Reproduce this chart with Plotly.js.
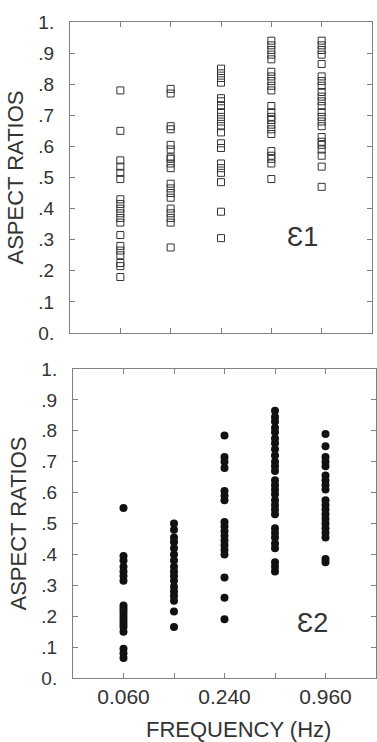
<!DOCTYPE html>
<html>
<head>
<meta charset="utf-8">
<script src="https://cdn.plot.ly/plotly-3.0.1.min.js"></script>
<style>
  html, body { margin: 0; padding: 0; background: #ffffff; }
  #chart { width: 377px; height: 742px; }
</style>
</head>
<body>
<div id="chart"></div>
<script>
// Frequency categories (Hz)
const frequencies = ["0.060", "0.120", "0.240", "0.480", "0.960"];
const freqTickText = ["0.060", "", "0.240", "", "0.960"];
const yTickVals = [0, 0.1, 0.2, 0.3, 0.4, 0.5, 0.6, 0.7, 0.8, 0.9, 1];
const yTickText = ["0.", ".1", ".2", ".3", ".4", ".5", ".6", ".7", ".8", ".9", "1."];

// ε1 aspect ratios (top panel, open squares)
const e1_f060 = [0.78, 0.65, 0.555, 0.535, 0.515, 0.495, 0.43, 0.415, 0.40, 0.385, 0.37, 0.355, 0.315, 0.28, 0.265, 0.25, 0.225, 0.215, 0.18];
const e1_f120 = [0.785, 0.77, 0.665, 0.655, 0.605, 0.59, 0.565, 0.56, 0.545, 0.53, 0.48, 0.465, 0.45, 0.435, 0.40, 0.385, 0.37, 0.355, 0.275];
const e1_f240 = [0.85, 0.835, 0.82, 0.805, 0.755, 0.745, 0.73, 0.71, 0.695, 0.68, 0.665, 0.645, 0.61, 0.595, 0.545, 0.53, 0.515, 0.485, 0.39, 0.305];
const e1_f480 = [0.94, 0.925, 0.91, 0.895, 0.88, 0.84, 0.825, 0.81, 0.795, 0.78, 0.73, 0.71, 0.695, 0.685, 0.67, 0.655, 0.64, 0.585, 0.57, 0.56, 0.545, 0.495];
const e1_f960 = [0.94, 0.925, 0.91, 0.895, 0.865, 0.825, 0.81, 0.795, 0.775, 0.76, 0.745, 0.73, 0.71, 0.695, 0.68, 0.665, 0.63, 0.615, 0.605, 0.59, 0.57, 0.535, 0.47];

// ε2 aspect ratios (bottom panel, filled dots)
const e2_f060 = [0.55, 0.395, 0.38, 0.36, 0.345, 0.33, 0.315, 0.235, 0.225, 0.215, 0.205, 0.195, 0.185, 0.175, 0.165, 0.15, 0.095, 0.08, 0.065];
const e2_f120 = [0.50, 0.48, 0.455, 0.44, 0.42, 0.40, 0.38, 0.36, 0.345, 0.33, 0.315, 0.295, 0.28, 0.265, 0.25, 0.215, 0.165];
const e2_f240 = [0.785, 0.715, 0.70, 0.68, 0.605, 0.59, 0.575, 0.505, 0.49, 0.475, 0.46, 0.445, 0.43, 0.415, 0.40, 0.325, 0.26, 0.19];
const e2_f480 = [0.865, 0.845, 0.83, 0.81, 0.795, 0.775, 0.76, 0.74, 0.72, 0.70, 0.685, 0.67, 0.64, 0.625, 0.61, 0.595, 0.575, 0.56, 0.545, 0.53, 0.485, 0.47, 0.455, 0.435, 0.42, 0.375, 0.36, 0.345];
const e2_f960 = [0.79, 0.75, 0.715, 0.70, 0.685, 0.655, 0.64, 0.625, 0.61, 0.575, 0.56, 0.545, 0.53, 0.515, 0.50, 0.485, 0.47, 0.455, 0.385, 0.375];

const e1Groups = [e1_f060, e1_f120, e1_f240, e1_f480, e1_f960];
const e2Groups = [e2_f060, e2_f120, e2_f240, e2_f480, e2_f960];

function flatten(groups) {
  const x = [], y = [];
  groups.forEach((vals, i) => vals.forEach(v => { x.push(frequencies[i]); y.push(v); }));
  return {x, y};
}
const e1 = flatten(e1Groups);
const e2 = flatten(e2Groups);

const FONT = "Liberation Sans, Arial, Helvetica, sans-serif";
const TXT = "#333333";
const LINE = "#808080";
const H = 742, W = 377;

const traces = [
  {
    type: "scatter", mode: "markers", x: e1.x, y: e1.y, xaxis: "x", yaxis: "y",
    marker: {symbol: "square-open", size: 7, color: "#333333", line: {width: 1, color: "#333333"}},
    hoverinfo: "x+y", showlegend: false
  },
  {
    type: "scatter", mode: "markers", x: e2.x, y: e2.y, xaxis: "x2", yaxis: "y2",
    marker: {symbol: "circle", size: 8, color: "#111111"},
    hoverinfo: "x+y", showlegend: false
  }
];

function yAxis(domain, anchor) {
  return {
    domain: domain, anchor: anchor, range: [0, 1],
    tickmode: "array", tickvals: yTickVals, ticktext: yTickText,
    ticks: "inside", ticklen: 5, tickwidth: 1, tickcolor: LINE,
    showline: true, linecolor: LINE, linewidth: 1, mirror: "ticks",
    showgrid: false, zeroline: false,
    tickfont: {family: FONT, size: 19, color: TXT},
    ticklabelstandoff: 11,
    title: {text: "ASPECT RATIOS", font: {family: FONT, size: 22, color: TXT}, standoff: 8}
  };
}
function xAxis(domain, anchor, labels) {
  return {
    domain: domain, anchor: anchor, type: "category",
    categoryorder: "array", categoryarray: frequencies, range: [-1, 5],
    tickmode: "array", tickvals: frequencies, ticktext: freqTickText,
    showticklabels: labels,
    ticks: "inside", ticklen: 5, tickwidth: 1, tickcolor: LINE,
    showline: true, linecolor: LINE, linewidth: 1, mirror: "ticks",
    showgrid: false, zeroline: false,
    tickfont: {family: FONT, size: 21, color: TXT},
    ticklabelstandoff: 0
  };
}

const layout = {
  width: W, height: H,
  margin: {l: 0, r: 0, t: 0, b: 0},
  paper_bgcolor: "#ffffff", plot_bgcolor: "#ffffff",
  font: {family: FONT, color: TXT},
  showlegend: false,
  xaxis: xAxis([70 / W, 372 / W], "y", false),
  yaxis: yAxis([1 - 333 / H, 1 - 22 / H], "x"),
  xaxis2: xAxis([73 / W, 376 / W], "y2", true),
  yaxis2: yAxis([1 - 678 / H, 1 - 369 / H], "x2"),
  annotations: [
    {xref: "x", yref: "y", x: 3.62, y: 0.31, text: "Ɛ1", showarrow: false,
     font: {family: FONT, size: 27, color: TXT}},
    {xref: "x2", yref: "y2", x: 3.74, y: 0.178, text: "Ɛ2", showarrow: false,
     font: {family: FONT, size: 27, color: TXT}},
    {xref: "paper", yref: "paper", x: 238 / W, y: 1 - 729 / H, text: "FREQUENCY (Hz)",
     showarrow: false, xanchor: "center", yanchor: "middle",
     font: {family: FONT, size: 22, color: TXT}}
  ]
};

Plotly.newPlot("chart", traces, layout, {displayModeBar: false, staticPlot: true});
</script>
</body>
</html>
